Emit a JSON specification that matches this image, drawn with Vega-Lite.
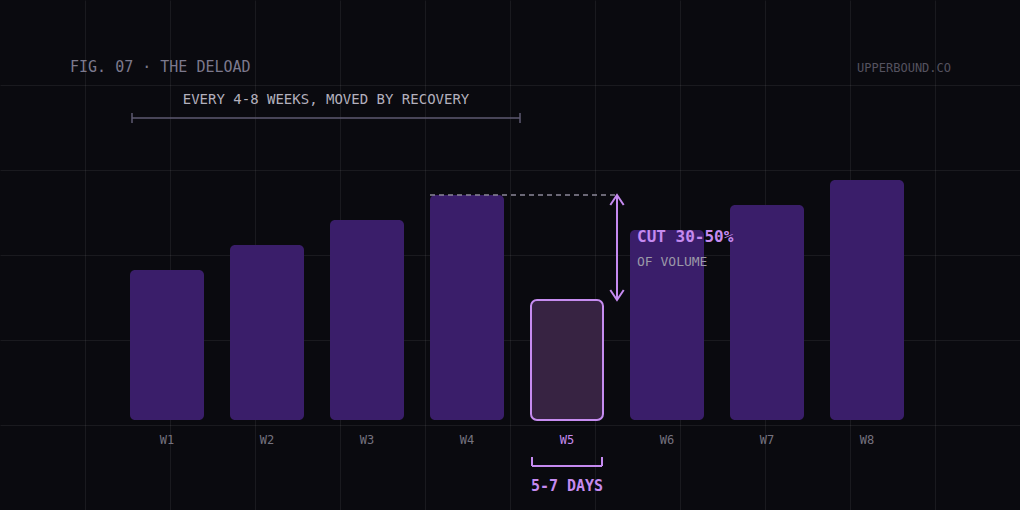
{
  "$schema": "https://vega.github.io/schema/vega-lite/v6.json",
  "width": 1020,
  "height": 510,
  "autosize": {"type": "none"},
  "padding": 0,
  "background": "#0a0a0f",
  "config": {
    "view": {"stroke": null},
    "axis": {
      "domain": false,
      "ticks": false,
      "labels": false,
      "title": null,
      "grid": true,
      "gridColor": "#ffffff",
      "gridOpacity": 0.065,
      "gridWidth": 1
    },
    "text": {"font": "DejaVu Sans Mono", "baseline": "alphabetic"}
  },
  "data": {
    "values": [
      {"week": "W1", "wk": 1, "vol": 60},
      {"week": "W2", "wk": 2, "vol": 70},
      {"week": "W3", "wk": 3, "vol": 80},
      {"week": "W4", "wk": 4, "vol": 90},
      {"week": "W5", "wk": 5, "vol": 48},
      {"week": "W6", "wk": 6, "vol": 76},
      {"week": "W7", "wk": 7, "vol": 86},
      {"week": "W8", "wk": 8, "vol": 96}
    ]
  },
  "layer": [
    {
      "transform": [{"filter": "datum.week !== 'W5'"}],
      "mark": {"type": "bar", "width": 74, "cornerRadius": 5, "color": "#3a1e6a"},
      "encoding": {
        "x": {
          "field": "wk",
          "type": "quantitative",
          "scale": {"domain": [-0.67, 9.53], "nice": false, "zero": false, "padding": 0},
          "axis": {"values": [0.18, 1.03, 1.88, 2.73, 3.58, 4.43, 5.28, 6.13, 6.98, 7.83, 8.68]}
        },
        "y": {
          "field": "vol",
          "type": "quantitative",
          "scale": {"domain": [-36, 168], "nice": false, "zero": false, "padding": 0},
          "axis": {"values": [134, 100, 66, 32, -2]}
        },
        "y2": {"datum": 0}
      }
    },
    {
      "transform": [{"filter": "datum.week === 'W5'"}],
      "mark": {"type": "bar", "width": 72, "cornerRadius": 6, "fill": "#372342", "stroke": "#c68cf0", "strokeWidth": 2},
      "encoding": {
        "x": {"field": "wk", "type": "quantitative"},
        "y": {"field": "vol", "type": "quantitative"},
        "y2": {"datum": 0}
      }
    },
    {
      "mark": {"type": "text", "fontSize": 12, "align": "center"},
      "encoding": {
        "x": {"field": "wk", "type": "quantitative"},
        "y": {"datum": -9.6},
        "text": {"field": "week"},
        "color": {"condition": {"test": "datum.week === 'W5'", "value": "#c58af0"}, "value": "#75727f"}
      }
    },
    {
      "data": {"values": [{}]},
      "mark": {"type": "rule", "color": "#8c8899", "strokeWidth": 1.5, "strokeDash": [5, 4]},
      "encoding": {
        "x": {"datum": 3.63},
        "x2": {"datum": 5.48},
        "y": {"datum": 90}
      }
    },
    {
      "data": {"values": [{}]},
      "mark": {"type": "rule", "color": "#c58af0", "strokeWidth": 2},
      "encoding": {
        "x": {"datum": 5.5},
        "y": {"datum": 90},
        "y2": {"datum": 48}
      }
    },
    {
      "data": {"values": [{}]},
      "mark": {"type": "point", "shape": "M-0.67,1L0,0L0.67,1", "size": 400, "filled": false, "stroke": "#c58af0", "strokeWidth": 2, "opacity": 1},
      "encoding": {
        "x": {"datum": 5.5},
        "y": {"datum": 90}
      }
    },
    {
      "data": {"values": [{}]},
      "mark": {"type": "point", "shape": "M-0.67,-1L0,0L0.67,-1", "size": 400, "filled": false, "stroke": "#c58af0", "strokeWidth": 2, "opacity": 1},
      "encoding": {
        "x": {"datum": 5.5},
        "y": {"datum": 48}
      }
    },
    {
      "data": {"values": [{}]},
      "mark": {"type": "rule", "color": "#5e5a72", "strokeWidth": 1.5},
      "encoding": {
        "x": {"datum": 0.65},
        "x2": {"datum": 4.53},
        "y": {"datum": 120.8}
      }
    },
    {
      "data": {"values": [{}]},
      "mark": {"type": "rule", "color": "#5e5a72", "strokeWidth": 1.5},
      "encoding": {
        "x": {"datum": 0.65},
        "y": {"datum": 118.8},
        "y2": {"datum": 122.8}
      }
    },
    {
      "data": {"values": [{}]},
      "mark": {"type": "rule", "color": "#5e5a72", "strokeWidth": 1.5},
      "encoding": {
        "x": {"datum": 4.53},
        "y": {"datum": 118.8},
        "y2": {"datum": 122.8}
      }
    },
    {
      "data": {"values": [{}]},
      "mark": {"type": "rule", "color": "#c58af0", "strokeWidth": 2},
      "encoding": {
        "x": {"datum": 4.65},
        "x2": {"datum": 5.35},
        "y": {"datum": -18.4}
      }
    },
    {
      "data": {"values": [{}]},
      "mark": {"type": "rule", "color": "#c58af0", "strokeWidth": 2},
      "encoding": {
        "x": {"datum": 4.65},
        "y": {"datum": -14.8},
        "y2": {"datum": -18.4}
      }
    },
    {
      "data": {"values": [{}]},
      "mark": {"type": "rule", "color": "#c58af0", "strokeWidth": 2},
      "encoding": {
        "x": {"datum": 5.35},
        "y": {"datum": -14.8},
        "y2": {"datum": -18.4}
      }
    },
    {
      "data": {"values": [{}]},
      "mark": {"type": "text", "text": "FIG. 07 · THE DELOAD", "fontSize": 15, "align": "left", "color": "#7c798d"},
      "encoding": {
        "x": {"datum": 0.03},
        "y": {"datum": 139.2}
      }
    },
    {
      "data": {"values": [{}]},
      "mark": {"type": "text", "text": "UPPERBOUND.CO", "fontSize": 12, "align": "right", "color": "#55525f"},
      "encoding": {
        "x": {"datum": 8.84},
        "y": {"datum": 139.2}
      }
    },
    {
      "data": {"values": [{}]},
      "mark": {"type": "text", "text": "EVERY 4-8 WEEKS, MOVED BY RECOVERY", "fontSize": 14, "align": "center", "color": "#b3b0bd"},
      "encoding": {
        "x": {"datum": 2.59},
        "y": {"datum": 126.4}
      }
    },
    {
      "data": {"values": [{}]},
      "mark": {"type": "text", "text": "CUT 30-50%", "fontSize": 16, "fontWeight": "bold", "align": "left", "color": "#c58af0"},
      "encoding": {
        "x": {"datum": 5.7},
        "y": {"datum": 71.2}
      }
    },
    {
      "data": {"values": [{}]},
      "mark": {"type": "text", "text": "OF VOLUME", "fontSize": 13, "align": "left", "color": "#9c99a8"},
      "encoding": {
        "x": {"datum": 5.7},
        "y": {"datum": 61.6}
      }
    },
    {
      "data": {"values": [{}]},
      "mark": {"type": "text", "text": "5-7 DAYS", "fontSize": 15, "fontWeight": "bold", "align": "center", "color": "#c58af0"},
      "encoding": {
        "x": {"datum": 5.0},
        "y": {"datum": -28.2}
      }
    }
  ]
}
